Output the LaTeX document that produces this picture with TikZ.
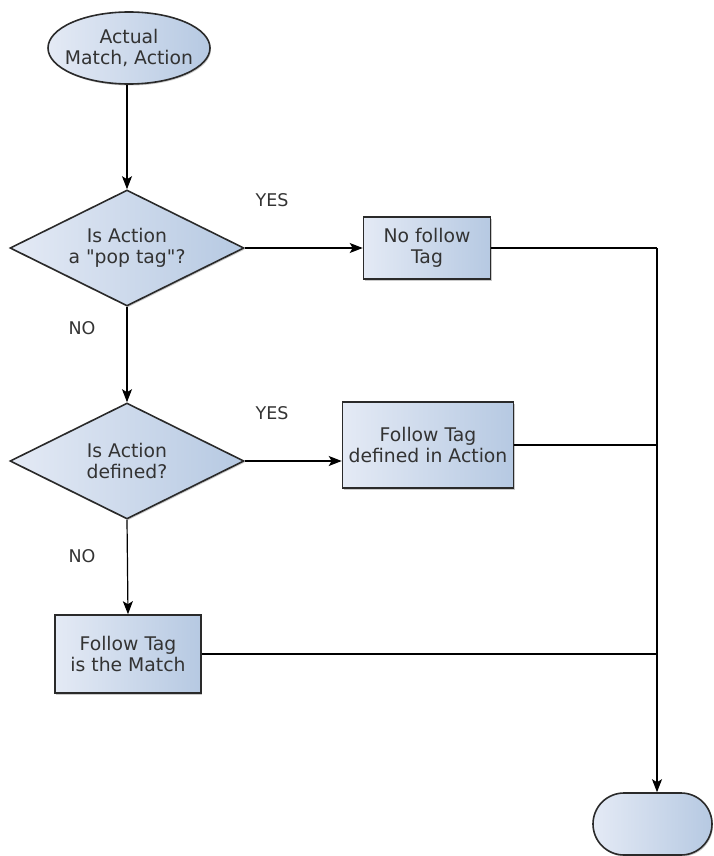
\documentclass[tikz,border=0pt]{standalone}
\usepackage{fontspec}
\setmainfont{DejaVu Sans}[Ligatures=TeXOff]
\usetikzlibrary{shapes.geometric,shapes.misc,arrows.meta,shadows}
\definecolor{fillL}{HTML}{E4EAF5}
\definecolor{fillR}{HTML}{B6C9E2}
\definecolor{edge}{HTML}{2A2A2A}
\definecolor{txt}{HTML}{333333}
\tikzset{
  shapebase/.style={draw=edge, line width=1.6pt, left color=fillL, right color=fillR,
    text=txt, align=center, font=\fontsize{18.8}{21}\selectfont, inner sep=0pt,
    drop shadow={shadow xshift=1pt, shadow yshift=-1.5pt, opacity=0.35, fill=black!60}},
  startnode/.style={shapebase, ellipse, minimum width=162pt, minimum height=72pt},
  decision/.style={shapebase, diamond, aspect=2, minimum width=234pt, minimum height=116pt},
  process/.style={shapebase, rectangle},
  terminal/.style={shapebase, rounded rectangle},
  flow/.style={draw=black, line width=1.2pt, -{Stealth[length=13pt,width=10pt,inset=3pt]}},
  link/.style={draw=black, line width=1.2pt},
  answer/.style={text=txt, font=\fontsize{17.5}{20}\selectfont}
}
\begin{document}
\begin{tikzpicture}[x=1pt,y=-1pt]
  \useasboundingbox (0,0) rectangle (713,856);

  % shapes (the start line is boxed narrower so the ellipse keeps its size)
  \node[startnode] (start) at (129,48) {Actual\\\makebox[100pt]{Match, Action}};
  \node[decision] (q1) at (127,248) {Is Action\\a "pop tag"?};
  \node[process, minimum width=127pt, minimum height=62pt] (nofollow) at (427,248) {No follow\\Tag};
  \node[decision] (q2) at (127,461) {Is Action\\defined?};
  \node[process, minimum width=171pt, minimum height=86pt] (deftag) at (428,445) {Follow Tag\\defined in Action};
  \node[process, minimum width=146pt, minimum height=78pt] (match) at (128,654) {Follow Tag\\is the Match};
  \node[terminal, minimum width=119pt, minimum height=62pt] (finish) at (652.5,824) {};
  \coordinate (rail) at (657,248);

  % answer labels
  \node[answer] (yes1) at (272,200) {YES};
  \node[answer] (no1) at (82,328) {NO};
  \node[answer] (yes2) at (272,413) {YES};
  \node[answer] (no2) at (82,556) {NO};

  % connectors
  \draw[flow] (start.south -| q1.north) -- (q1.north);
  \draw[flow] (q1.east) -- (nofollow.west);
  \draw[flow] (q1.south) -- (q2.north);
  \draw[flow] (q2.east) -- (q2.east -| deftag.west);
  \draw[flow] (q2.south) -- (match.north);
  \draw[link] (nofollow.east) -- (rail);
  \draw[flow] (rail) -- (rail |- finish.north);
  \draw[link] (deftag.east) -- (deftag.east -| rail);
  \draw[link] (match.east) -- (match.east -| rail);
\end{tikzpicture}
\end{document}
